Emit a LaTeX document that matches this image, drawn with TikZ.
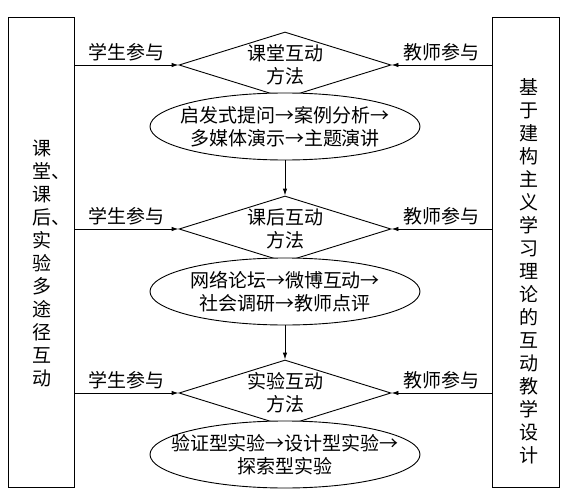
\documentclass[tikz,border=0pt]{standalone}
\usepackage{fontspec}
\setmainfont{Noto Sans CJK SC}
\usetikzlibrary{shapes.geometric,arrows.meta}
\tikzset{
	box/.style={draw,line width=0.9pt,minimum width=66pt,minimum height=470pt,inner sep=0pt},
	method/.style={draw,line width=0.9pt,diamond,aspect=3.2,inner sep=-6pt,minimum width=212pt,minimum height=66pt,align=center},
	oval/.style={draw,line width=0.9pt,ellipse,fill=white,inner sep=-20pt,minimum width=270pt,minimum height=67pt,align=center},
	vtext/.style={align=center,inner sep=0pt},
	flow/.style={line width=0.9pt,-{Latex[length=7pt,width=4.5pt]}}
}

\begin{document}
\begin{tikzpicture}[x=1pt,y=-1pt,font=\fontsize{19}{23}\selectfont]
	\useasboundingbox (0,0) rectangle (566,498);
	\node[box] (left) at (41,252) {};
	\node[box,minimum width=67pt] (right) at (525.5,252) {};
	\node[vtext] (lefttext) at (41.5,263) {课\\堂\rlap{、}\\课\\后\rlap{、}\\实\\验\\多\\途\\径\\互\\动};
	\node[vtext] (righttext) at (529,271) {基\\于\\建\\构\\主\\义\\学\\习\\理\\论\\的\\互\\动\\教\\学\\设\\计};

	\node[method] (d1) at (285,65) {课堂互动\\方法};
	\node[method] (d2) at (285,229) {课后互动\\方法};
	\node[method] (d3) at (285,393) {实验互动\\方法};
	\node[oval] (e1) at (285,126.5) {启发式提问→案例分析→\\多媒体演示→主题演讲};
	\node[oval] (e2) at (285,291.5) {网络论坛→微博互动→\\社会调研→教师点评};
	\node[oval] (e3) at (285,454.5) {验证型实验→设计型实验→\\探索型实验};

	\draw[flow] (left.east |- d1) -- (d1.west) node[midway,above]{学生参与};
	\draw[flow] (left.east |- d2) -- (d2.west) node[midway,above]{学生参与};
	\draw[flow] (left.east |- d3) -- (d3.west) node[midway,above]{学生参与};
	\draw[flow] (right.west |- d1) -- (d1.east) node[midway,above]{教师参与};
	\draw[flow] (right.west |- d2) -- (d2.east) node[midway,above]{教师参与};
	\draw[flow] (right.west |- d3) -- (d3.east) node[midway,above]{教师参与};
	\draw[flow] (e1.south) -- (d2.north);
	\draw[flow] (e2.south) -- (d3.north);
\end{tikzpicture}
\end{document}
